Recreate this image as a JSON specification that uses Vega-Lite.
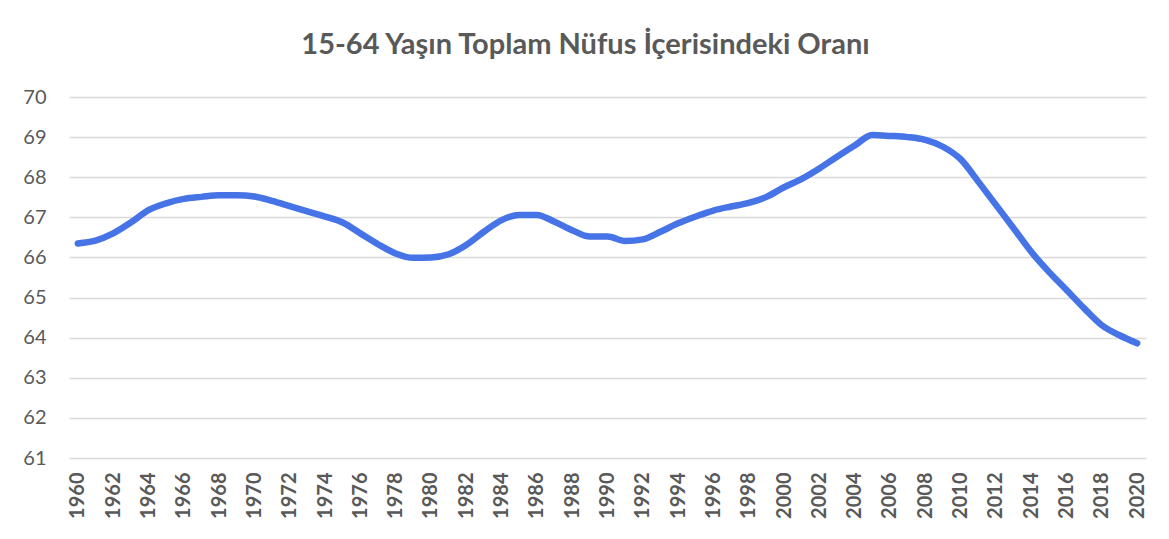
{
  "$schema": "https://vega.github.io/schema/vega-lite/v6.json",
  "width": 1077,
  "height": 361,
  "autosize": {"type": "none"},
  "padding": {"left": 69, "top": 97, "right": 23, "bottom": 81},
  "background": "white",
  "title": {
    "text": "15-64 Yaşın Toplam Nüfus İçerisindeki Oranı",
    "font": "Lato",
    "fontSize": 29,
    "fontWeight": "bold",
    "color": "#595959",
    "anchor": "middle",
    "frame": "group",
    "dx": -22,
    "baseline": "alphabetic",
    "offset": 4
  },
  "config": {
    "view": {"stroke": null},
    "font": "Lato"
  },
  "data": {
    "values": [
      {"year": 1960, "value": 66.35},
      {"year": 1961, "value": 66.42},
      {"year": 1962, "value": 66.6},
      {"year": 1963, "value": 66.87},
      {"year": 1964, "value": 67.18},
      {"year": 1965, "value": 67.35},
      {"year": 1966, "value": 67.46},
      {"year": 1967, "value": 67.51},
      {"year": 1968, "value": 67.55},
      {"year": 1969, "value": 67.55},
      {"year": 1970, "value": 67.52},
      {"year": 1971, "value": 67.41},
      {"year": 1972, "value": 67.28},
      {"year": 1973, "value": 67.15},
      {"year": 1974, "value": 67.02},
      {"year": 1975, "value": 66.87},
      {"year": 1976, "value": 66.6},
      {"year": 1977, "value": 66.33},
      {"year": 1978, "value": 66.1},
      {"year": 1979, "value": 65.99},
      {"year": 1980, "value": 66.0},
      {"year": 1981, "value": 66.08},
      {"year": 1982, "value": 66.31},
      {"year": 1983, "value": 66.64},
      {"year": 1984, "value": 66.93},
      {"year": 1985, "value": 67.06},
      {"year": 1986, "value": 67.06},
      {"year": 1987, "value": 66.89},
      {"year": 1988, "value": 66.68},
      {"year": 1989, "value": 66.52},
      {"year": 1990, "value": 66.52},
      {"year": 1991, "value": 66.41},
      {"year": 1992, "value": 66.45},
      {"year": 1993, "value": 66.64},
      {"year": 1994, "value": 66.85},
      {"year": 1995, "value": 67.02},
      {"year": 1996, "value": 67.17},
      {"year": 1997, "value": 67.27},
      {"year": 1998, "value": 67.36},
      {"year": 1999, "value": 67.51},
      {"year": 2000, "value": 67.75},
      {"year": 2001, "value": 67.96},
      {"year": 2002, "value": 68.22},
      {"year": 2003, "value": 68.51},
      {"year": 2004, "value": 68.79},
      {"year": 2005, "value": 69.05},
      {"year": 2006, "value": 69.03},
      {"year": 2007, "value": 69.0},
      {"year": 2008, "value": 68.93},
      {"year": 2009, "value": 68.76},
      {"year": 2010, "value": 68.45},
      {"year": 2011, "value": 67.89},
      {"year": 2012, "value": 67.31},
      {"year": 2013, "value": 66.73},
      {"year": 2014, "value": 66.14},
      {"year": 2015, "value": 65.64},
      {"year": 2016, "value": 65.19},
      {"year": 2017, "value": 64.73},
      {"year": 2018, "value": 64.31},
      {"year": 2019, "value": 64.06},
      {"year": 2020, "value": 63.86}
    ]
  },
  "mark": {
    "type": "line",
    "color": "#4674E6",
    "strokeWidth": 6.5,
    "strokeCap": "round",
    "strokeJoin": "round",
    "interpolate": "monotone"
  },
  "encoding": {
    "x": {
      "field": "year",
      "type": "ordinal",
      "scale": {"type": "point", "padding": 0.5},
      "axis": {
        "title": null,
        "values": [1960,1962,1964,1966,1968,1970,1972,1974,1976,1978,1980,1982,1984,1986,1988,1990,1992,1994,1996,1998,2000,2002,2004,2006,2008,2010,2012,2014,2016,2018,2020],
        "labelAngle": -90,
        "labelFont": "Lato",
        "labelFontSize": 20,
        "labelFontWeight": "bold",
        "labelColor": "#595959",
        "labelPadding": 14,
        "domain": false,
        "ticks": false,
        "grid": false
      }
    },
    "y": {
      "field": "value",
      "type": "quantitative",
      "scale": {"domain": [61, 70], "nice": false, "zero": false},
      "axis": {
        "title": null,
        "values": [61,62,63,64,65,66,67,68,69,70],
        "labelFont": "Lato",
        "labelFontSize": 20,
        "labelColor": "#595959",
        "labelPadding": 23,
        "domain": false,
        "ticks": false,
        "grid": true,
        "gridColor": "#d9d9d9",
        "gridWidth": 1.5
      }
    }
  }
}
